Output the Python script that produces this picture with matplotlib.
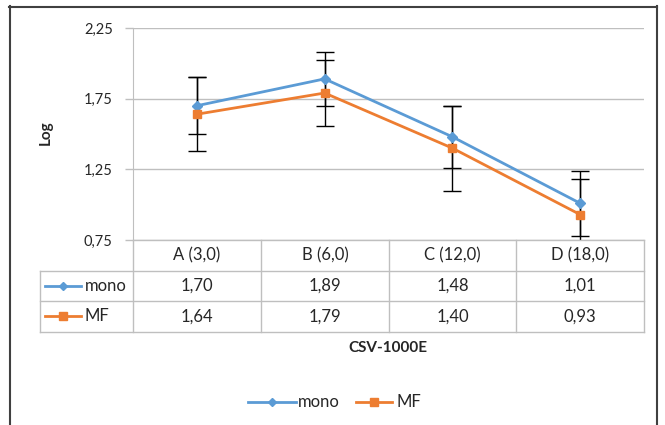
import matplotlib
matplotlib.use("Agg")
import matplotlib.pyplot as plt
from matplotlib.lines import Line2D

plt.rcParams['font.family'] = ['Lato', 'DejaVu Sans']

# data
categories = ["A (3,0)", "B (6,0)", "C (12,0)", "D (18,0)"]
mono = [1.70, 1.89, 1.48, 1.01]
mf = [1.64, 1.79, 1.40, 0.93]
mono_err = [0.20, 0.19, 0.22, 0.23]
mf_err = [0.26, 0.235, 0.30, 0.255]
yticks = [0.75, 1.25, 1.75, 2.25]

blue = "#5b9bd5"
orange = "#ed7d31"
grid_c = "#bfbfbf"
text_c = "#262626"

W, H = 665, 425
fig = plt.figure(figsize=(W / 100, H / 100), dpi=100)


def fx(x):
    return x / W


def fy(y):
    return 1 - y / H


# plot area in pixels
left, right, top, bottom = 133, 644, 28, 240
ax = fig.add_axes([fx(left), fy(bottom), fx(right) - fx(left), fy(top) - fy(bottom)])

x = list(range(len(categories)))
ax.errorbar(x, mono, yerr=mono_err, fmt="none", ecolor="black", elinewidth=1,
            capsize=6.5, capthick=1, zorder=2)
ax.errorbar(x, mf, yerr=mf_err, fmt="none", ecolor="black", elinewidth=1,
            capsize=6.5, capthick=1, zorder=2)
ax.plot(x, mono, color=blue, lw=2, marker="D", ms=5.5, zorder=3)
ax.plot(x, mf, color=orange, lw=2, marker="s", ms=6, zorder=3)

ax.set_xlim(-0.5, len(categories) - 0.5)
ax.set_ylim(0.75, 2.25)
ax.set_yticks(yticks)
ax.set_yticklabels([f"{v:.2f}".replace(".", ",") for v in yticks], fontsize=10.5, color=text_c)
ax.set_xticks([])
ax.tick_params(axis="y", length=6, width=1, color=grid_c, pad=8.5)
ax.yaxis.grid(True, color=grid_c, lw=1)
ax.set_axisbelow(True)
for s in ["top", "right", "bottom"]:
    ax.spines[s].set_visible(False)
ax.spines["left"].set_color(grid_c)
ax.patch.set_alpha(0)

fig.text(fx(46), fy(133), "Log", rotation=90, ha="center", va="center",
         fontsize=11, fontweight="bold", color=text_c)


def hline(x0, x1, y, color=grid_c, lw=1):
    fig.add_artist(Line2D([fx(x0), fx(x1)], [fy(y), fy(y)], color=color, lw=lw,
                          transform=fig.transFigure))


def vline(x, y0, y1, color=grid_c, lw=1):
    fig.add_artist(Line2D([fx(x), fx(x)], [fy(y0), fy(y1)], color=color, lw=lw,
                          transform=fig.transFigure))


def key(x0, x1, y, color, marker, ms):
    fig.add_artist(Line2D([fx(x0), fx(x1)], [fy(y), fy(y)], color=color, lw=2,
                          transform=fig.transFigure))
    fig.add_artist(Line2D([fx((x0 + x1) / 2)], [fy(y)], color=color, marker=marker,
                          ms=ms, transform=fig.transFigure))


# data table
tleft = 40
cols = [133, 261, 389, 516, 644]
rows = [240, 271, 301, 332]
hline(cols[0], cols[-1], rows[0])
for r in rows[1:]:
    hline(tleft, cols[-1], r)
vline(tleft, rows[1], rows[-1])
for c in cols:
    vline(c, rows[0], rows[-1])

for i, cat in enumerate(categories):
    cx = (cols[i] + cols[i + 1]) / 2
    fig.text(fx(cx), fy((rows[0] + rows[1]) / 2), cat, ha="center", va="center",
             fontsize=12, color=text_c)
    fig.text(fx(cx), fy((rows[1] + rows[2]) / 2), f"{mono[i]:.2f}".replace(".", ","),
             ha="center", va="center", fontsize=12, color=text_c)
    fig.text(fx(cx), fy((rows[2] + rows[3]) / 2), f"{mf[i]:.2f}".replace(".", ","),
             ha="center", va="center", fontsize=12, color=text_c)

key(45, 81, 286, blue, "D", 4.5)
fig.text(fx(85), fy(286), "mono", ha="left", va="center", fontsize=12, color=text_c)
key(45, 81, 316, orange, "s", 5.5)
fig.text(fx(85), fy(316), "MF", ha="left", va="center", fontsize=12, color=text_c)

fig.text(fx(388), fy(348), "CSV-1000E", ha="center", va="center", fontsize=11,
         fontweight="bold", color=text_c)

# legend
key(248, 296, 402, blue, "D", 4.5)
fig.text(fx(298), fy(402), "mono", ha="left", va="center", fontsize=12, color=text_c)
key(356, 392, 402, orange, "s", 5.5)
fig.text(fx(396), fy(402), "MF", ha="left", va="center", fontsize=12, color=text_c)

# chart border (open at the bottom, as in the reference)
border = "#404040"
hline(9, 657, 6.5, color=border, lw=1.5)
vline(9.5, 6, 425, color=border, lw=1.5)
vline(657, 6, 425, color=border, lw=1.5)

fig.savefig("out.png", dpi=100)
